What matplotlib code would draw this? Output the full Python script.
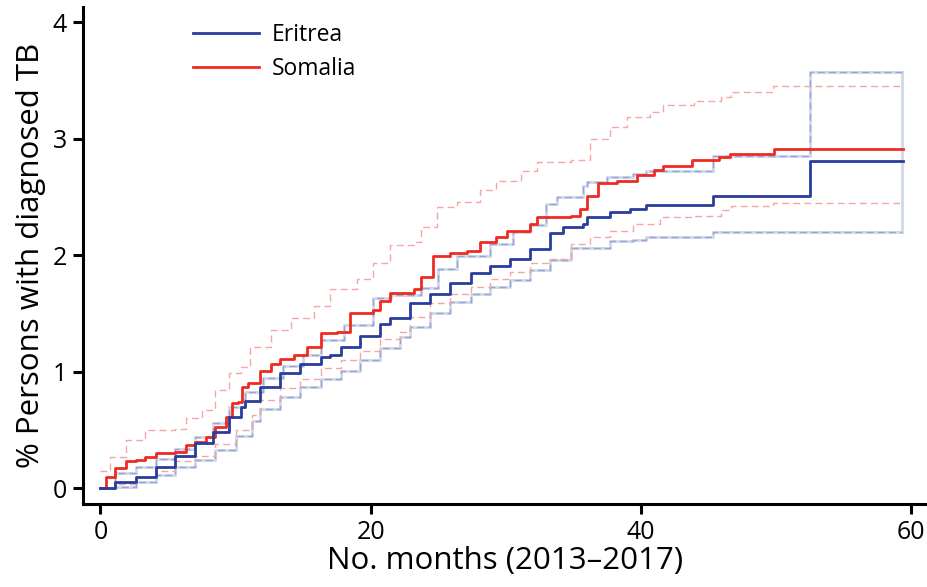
import matplotlib
matplotlib.use('Agg')
import matplotlib.pyplot as plt

plt.rcParams['font.family'] = ['Open Sans', 'DejaVu Sans']

# cumulative % with diagnosed TB, knots of the step curves (month, value)
eri_x = [0, 1.1, 2.6, 4.1, 5.5, 7.0, 8.3, 9.5, 10.4, 10.7, 11.8, 13.3, 14.8, 16.3, 17.0,
         17.8, 19.2, 20.7, 21.4, 22.9, 24.4, 25.9, 27.4, 28.8, 30.3, 31.8, 33.3, 34.2,
         35.7, 36.0, 37.7, 39.2, 40.4, 45.3, 52.5, 59.4]
eri_y = [0, 0.05, 0.10, 0.18, 0.28, 0.39, 0.48, 0.61, 0.70, 0.75, 0.87, 0.99, 1.07, 1.13, 1.14,
         1.21, 1.31, 1.41, 1.46, 1.59, 1.67, 1.76, 1.85, 1.91, 1.97, 2.05, 2.19, 2.24,
         2.27, 2.33, 2.37, 2.40, 2.43, 2.51, 2.81, 2.81]

som_x = [0, 0.4, 1.1, 1.9, 2.6, 3.3, 4.1, 5.5, 6.3, 7.0, 7.8, 8.5, 9.3, 9.7, 10.2, 10.5,
         10.9, 11.8, 12.6, 13.3, 14.3, 15.3, 16.3, 17.5, 18.5, 20.2, 20.7, 21.4, 23.2,
         23.7, 24.6, 25.9, 27.1, 28.1, 29.3, 30.1, 31.8, 32.3, 34.8, 35.5, 36.0, 36.8,
         38.2, 39.7, 41.0, 41.6, 43.8, 45.8, 46.6, 49.85, 59.4]
som_y = [0, 0.10, 0.17, 0.23, 0.24, 0.27, 0.30, 0.31, 0.37, 0.40, 0.44, 0.53, 0.61, 0.73, 0.74, 0.87,
         0.90, 1.01, 1.07, 1.11, 1.14, 1.21, 1.33, 1.34, 1.50, 1.53, 1.61, 1.68, 1.71,
         1.81, 1.99, 2.02, 2.04, 2.11, 2.16, 2.21, 2.27, 2.33, 2.34, 2.40, 2.51, 2.62,
         2.64, 2.69, 2.73, 2.77, 2.82, 2.84, 2.87, 2.91, 2.91]

# 95% confidence bounds
eri_lo_x = [0, 1.1, 2.6, 4.1, 5.5, 7.0, 8.5, 10.0, 11.2, 11.8, 13.3, 14.8, 16.3, 17.8, 19.2,
            20.7, 22.2, 22.9, 24.4, 25.9, 27.4, 28.8, 30.3, 31.8, 33.3, 34.8, 37.7, 39.4,
            40.4, 45.3, 59.3]
eri_lo_y = [0, 0.01, 0.05, 0.11, 0.18, 0.24, 0.33, 0.45, 0.58, 0.68, 0.78, 0.87, 0.94, 1.01, 1.10,
            1.20, 1.30, 1.38, 1.50, 1.60, 1.67, 1.73, 1.79, 1.87, 1.96, 2.06, 2.12, 2.13,
            2.16, 2.20, 2.20]
eri_hi_x = [0, 1.1, 2.6, 4.1, 5.5, 7.0, 8.3, 9.5, 10.7, 12.0, 13.5, 15.0, 16.3, 18.0, 20.2,
            21.5, 23.7, 25.0, 26.4, 28.8, 30.5, 31.8, 33.0, 33.8, 35.7, 36.0, 37.5, 39.4,
            40.4, 45.3, 52.5, 59.3]
eri_hi_y = [0, 0.13, 0.18, 0.25, 0.34, 0.44, 0.56, 0.70, 0.83, 0.95, 1.05, 1.14, 1.27, 1.40, 1.63,
            1.66, 1.72, 1.88, 1.99, 2.10, 2.20, 2.26, 2.44, 2.50, 2.59, 2.63, 2.67, 2.70,
            2.72, 2.85, 3.57, 3.57]
som_lo_x = [0, 1.1, 2.6, 4.1, 5.5, 7.0, 8.5, 10.0, 11.2, 11.8, 13.3, 14.8, 16.3, 17.8, 19.2,
            20.7, 22.2, 22.9, 24.4, 25.9, 27.4, 28.8, 30.3, 31.8, 33.3, 34.8, 36.2, 37.7,
            39.4, 41.4, 43.9, 45.9, 46.7, 49.8, 59.3]
som_lo_y = [0, 0.04, 0.10, 0.15, 0.23, 0.28, 0.38, 0.50, 0.63, 0.76, 0.86, 0.94, 1.03, 1.10, 1.18,
            1.28, 1.34, 1.47, 1.59, 1.67, 1.73, 1.80, 1.86, 1.93, 1.97, 2.10, 2.16, 2.21,
            2.27, 2.33, 2.34, 2.39, 2.42, 2.45, 2.45]
som_hi_x = [0, 0.7, 1.9, 3.3, 5.5, 6.3, 7.5, 8.5, 9.5, 10.4, 11.1, 12.6, 14.1, 15.8, 17.0,
            19.0, 20.2, 21.4, 23.2, 23.7, 24.9, 26.4, 28.1, 29.3, 31.1, 32.3, 34.8, 36.2,
            37.7, 39.0, 40.7, 41.6, 43.9, 45.9, 46.7, 49.8, 59.3]
som_hi_y = [0.15, 0.27, 0.41, 0.50, 0.51, 0.60, 0.67, 0.84, 0.99, 1.04, 1.21, 1.36, 1.46, 1.56, 1.71,
            1.80, 1.93, 2.09, 2.11, 2.24, 2.41, 2.46, 2.56, 2.64, 2.72, 2.80, 2.82, 3.00,
            3.10, 3.19, 3.23, 3.29, 3.32, 3.36, 3.40, 3.45, 3.45]

blue = '#2a3c9c'
red = '#ee2b22'

fig = plt.figure(figsize=(9.27, 5.87), dpi=100)
ax = fig.add_axes([0.089, 0.141, 0.911, 0.847])

# confidence bounds: pale solid underlay with dashed line on top
for xs, ys in [(eri_lo_x, eri_lo_y), (eri_hi_x, eri_hi_y)]:
    ax.plot(xs, ys, drawstyle='steps-post', color='#d3dbe9', lw=2.2, zorder=1)
    ax.plot(xs, ys, drawstyle='steps-post', color='#9ba3d8', lw=1.0, dashes=(5, 3), zorder=2)
ax.plot([59.3, 59.3], [eri_lo_y[-1], eri_hi_y[-1]], color='#d3dbe9', lw=2.2, zorder=1)
for xs, ys in [(som_lo_x, som_lo_y), (som_hi_x, som_hi_y)]:
    ax.plot(xs, ys, drawstyle='steps-post', color='#f6a5a5', lw=1.0, dashes=(5, 3), zorder=2)

ax.plot(eri_x, eri_y, drawstyle='steps-post', color=blue, lw=2.0, label='Eritrea', zorder=4)
ax.plot(som_x, som_y, drawstyle='steps-post', color=red, lw=2.0, label='Somalia', zorder=3)

ax.set_xlim(-1.33, 61.17)
ax.set_ylim(-0.137, 4.13)
ax.set_xticks([0, 20, 40, 60])
ax.set_yticks([0, 1, 2, 3, 4])
for s in ['top', 'right']:
    ax.spines[s].set_visible(False)
for s in ['left', 'bottom']:
    ax.spines[s].set_linewidth(2.2)
ax.tick_params(direction='out', length=7, width=2.2, labelsize=18, pad=4)
ax.set_xlabel('No. months (2013\u20132017)', fontsize=22.5, labelpad=1)
ax.set_ylabel('% Persons with diagnosed TB', fontsize=22.5, labelpad=5)

ax.legend(loc='upper left', bbox_to_anchor=(0.106, 1.01), frameon=False, fontsize=16.5,
          handlelength=2.9, handletextpad=0.55, labelspacing=0.45)

fig.savefig('out.png', dpi=100)
